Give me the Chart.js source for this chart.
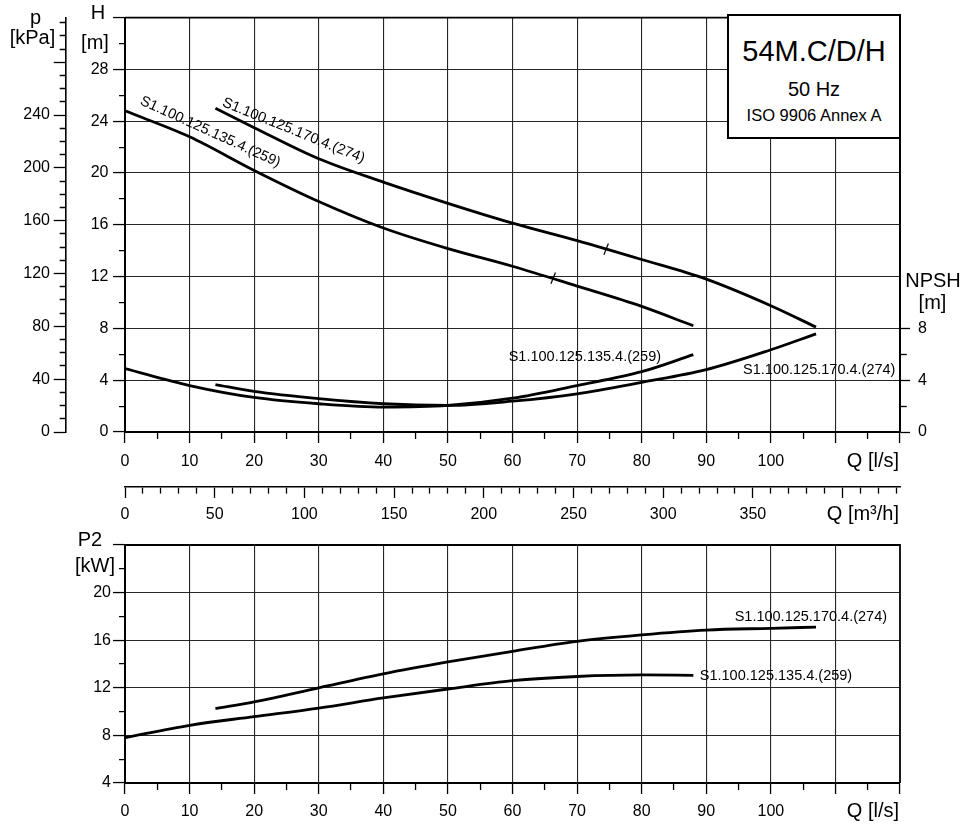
<!DOCTYPE html>
<html>
<head>
<meta charset="utf-8">
<script src="https://cdn.jsdelivr.net/npm/chart.js@4"></script>
<style>
  body { margin: 0; background: #fff; }
  #wrap { position: relative; width: 964px; height: 825px; }
  #c1 { position: absolute; left: 0; top: 0; }
  #c2 { position: absolute; left: 0; top: 525px; }
  .info {
    position: absolute; left: 727px; top: 14px; width: 174px; height: 125px;
    box-sizing: border-box; border: 2px solid #000; background: #fff;
    font-family: 'Liberation Sans', Arial, sans-serif; text-align: center; color: #000;
  }
  .info .t1 { position: absolute; left: 0; right: 0; top: 18px; font-size: 29px; line-height: 34px; }
  .info .t2 { position: absolute; left: 0; right: 0; top: 61px; font-size: 20px; line-height: 24px; }
  .info .t3 { position: absolute; left: 0; right: 0; top: 89px; font-size: 16.5px; line-height: 20px; }
</style>
</head>
<body>
<div id="wrap">
  <canvas id="c1" width="964" height="525" style="width:964px;height:525px"></canvas>
  <canvas id="c2" width="964" height="300" style="width:964px;height:300px"></canvas>
  <div class="info">
    <div class="t1">54M.C/D/H</div>
    <div class="t2">50 Hz</div>
    <div class="t3">ISO 9906 Annex A</div>
  </div>
</div>
<script>
"use strict";
{
    // pump names
    const pumps = ['S1.100.125.135.4.(259)', 'S1.100.125.170.4.(274)'];

    // S1.100.125.135.4.(259)
    const flow259 = [0, 10, 20, 30, 40, 50, 60, 70, 80, 88];
    const head259 = [24.8, 22.8, 20.2, 17.8, 15.75, 14.16, 12.8, 11.27, 9.7, 8.2];
    const npsh259 = [4.89, 3.59, 2.67, 2.18, 1.92, 2.05, 2.61, 3.59, 4.66, 5.97];
    const power259 = [7.8, 8.85, 9.58, 10.3, 11.15, 11.9, 12.6, 12.95, 13.08, 13.05];

    // S1.100.125.170.4.(274)
    const flow274 = [14, 20, 30, 40, 50, 60, 70, 80, 90, 100, 107];
    const head274 = [25.0, 23.5, 21.1, 19.3, 17.66, 16.13, 14.78, 13.32, 11.8, 9.75, 8.1];
    const npsh274 = [3.66, 3.13, 2.57, 2.18, 2.05, 2.38, 2.95, 3.84, 4.82, 6.35, 7.58];
    const power274 = [10.25, 10.82, 12.0, 13.17, 14.17, 15.07, 15.91, 16.45, 16.85, 17.0, 17.1];

    // duty point marks on the head curves
    const markFlow = [66.3, 74.5];
    const markHead = [11.88, 14.12];

    // axis tick labels
    const flowTicks = [0, 10, 20, 30, 40, 50, 60, 70, 80, 90, 100];
    const m3hTicks = [0, 50, 100, 150, 200, 250, 300, 350];
    const headTicks = [0, 4, 8, 12, 16, 20, 24, 28];
    const kpaTicks = [0, 40, 80, 120, 160, 200, 240];
    const npshTicks = [0, 4, 8];
    const powerTicks = [4, 8, 12, 16, 20];

    const BLACK = '#000';
    const GRID = '#262626';
    const FONT = "'Liberation Sans', Arial, sans-serif";
    Chart.defaults.font.family = FONT;
    Chart.defaults.color = BLACK;

    const pts = (xs, ys) => xs.map((x, i) => ({ x: x, y: ys[i] }));
    const steps = (a, b, s) => {
        const out = [];
        for (let v = a; v <= b + 1e-9; v += s) out.push(+v.toFixed(4));
        return out;
    };
    const setTicks = values => scale => { scale.ticks = values.map(v => ({ value: v })); };
    const near = (v, list) => list.some(t => Math.abs(t - v) < 1e-6);

    // minor tick: short dash next to the axis line
    const dashLeft = major => c => (c.tick && major(c.tick.value)) ? [] : [0, 6, 6, 100];
    const dashOut = major => c => (c.tick && major(c.tick.value)) ? [] : [6, 100];

    function curve(data, yAxis) {
        return {
            type: 'line', data: data, yAxisID: yAxis, xAxisID: 'x',
            borderColor: BLACK, borderWidth: 2.8, pointRadius: 0,
            cubicInterpolationMode: 'monotone', fill: false
        };
    }

    const textPlugin = {
        id: 'texts',
        afterDraw(chart, args, opts) {
            const ctx = chart.ctx;
            ctx.save();
            ctx.fillStyle = BLACK;
            (opts.curveLabels || []).forEach(it => {
                const x = chart.scales.x.getPixelForValue(it.x);
                const y = chart.scales[it.yAxis].getPixelForValue(it.y);
                ctx.save();
                ctx.translate(x, y);
                ctx.rotate((it.angle || 0) * Math.PI / 180);
                ctx.font = '14.5px ' + FONT;
                ctx.textAlign = it.align || 'center';
                ctx.textBaseline = 'middle';
                ctx.fillText(it.text, 0, 0);
                ctx.restore();
            });
            (opts.titles || []).forEach(it => {
                ctx.font = (it.size || 20) + 'px ' + FONT;
                ctx.textAlign = it.align || 'center';
                ctx.textBaseline = 'middle';
                ctx.fillText(it.text, it.px, it.py);
            });
            ctx.restore();
        }
    };

    const framePlugin = {
        id: 'frame',
        afterDatasetsDraw(chart) {
            const a = chart.chartArea;
            const ctx = chart.ctx;
            ctx.save();
            ctx.strokeStyle = BLACK;
            ctx.lineWidth = 1.8;
            ctx.beginPath();
            ctx.moveTo(a.left, a.top);
            ctx.lineTo(a.right, a.top);
            ctx.lineTo(a.right, a.bottom);
            ctx.stroke();
            ctx.restore();
        }
    };

    const isTen = v => v % 10 === 0;
    const innerGrid = (lo, hi, every) => c =>
        (c.tick && c.tick.value % every === 0 && c.tick.value > lo && c.tick.value < hi) ? GRID : 'rgba(0,0,0,0)';

    const flowAxis = (height, padding) => ({
        type: 'linear', position: 'bottom', weight: 0, min: 0, max: 120,
        afterBuildTicks: setTicks(steps(0, 120, 5)),
        afterFit: s => { s.height = height; },
        ticks: {
            autoSkip: false, maxRotation: 0, padding: padding, font: { size: 16 },
            callback: v => near(v, flowTicks) ? String(v) : ''
        },
        grid: {
            color: innerGrid(0, 120, 10), lineWidth: 1.1,
            tickColor: BLACK, tickWidth: 1.3, tickLength: 11,
            tickBorderDash: dashOut(isTen)
        },
        border: { color: BLACK, width: 2 }
    });

    // ---------- head / NPSH chart ----------
    new Chart(document.getElementById('c1'), {
        data: {
            datasets: [
                curve(pts(flow259, head259), 'h'),
                curve(pts(flow274, head274), 'h'),
                curve(pts(flow259, npsh259), 'n'),
                curve(pts(flow274, npsh274), 'n'),
                {
                    type: 'scatter', data: pts(markFlow, markHead), yAxisID: 'h', xAxisID: 'x',
                    pointStyle: 'line', pointRadius: 6, pointRotation: -68,
                    borderColor: BLACK, borderWidth: 1.2
                }
            ]
        },
        options: {
            responsive: false, animation: false,
            layout: { padding: { top: 15, right: 0, bottom: 0, left: 0 } },
            plugins: {
                legend: { display: false }, tooltip: { enabled: false },
                texts: {
                    curveLabels: [
                        { text: pumps[0], x: 13.2, y: 23.17, yAxis: 'h', angle: 24.5 },
                        { text: pumps[1], x: 26.1, y: 23.27, yAxis: 'h', angle: 22 },
                        { text: pumps[0], x: 83, y: 5.8, yAxis: 'n', align: 'right' },
                        { text: pumps[1], x: 95.7, y: 4.8, yAxis: 'n', align: 'left' }
                    ],
                    titles: [
                        { text: 'p', px: 35.5, py: 18 },
                        { text: '[kPa]', px: 32.5, py: 38 },
                        { text: 'H', px: 98, py: 13 },
                        { text: '[m]', px: 95, py: 43 },
                        { text: 'NPSH', px: 933, py: 281 },
                        { text: '[m]', px: 932.5, py: 303 },
                        { text: 'Q [l/s]', px: 899, py: 461.7, align: 'right' },
                        { text: 'Q [m\u00b3/h]', px: 899, py: 514, align: 'right' }
                    ]
                }
            },
            scales: {
                x: flowAxis(55, 9.4),
                xm: {
                    type: 'linear', position: 'bottom', weight: 1, min: 0, max: 432,
                    afterBuildTicks: setTicks(steps(0, 430, 10)),
                    afterFit: s => { s.height = 38; },
                    ticks: {
                        autoSkip: false, maxRotation: 0, padding: 6.7, font: { size: 16 },
                        callback: v => near(v, m3hTicks) ? String(v) : ''
                    },
                    grid: {
                        drawOnChartArea: false, tickColor: BLACK, tickWidth: 1.3, tickLength: 11,
                        tickBorderDash: dashOut(v => v % 50 === 0)
                    },
                    border: { color: BLACK, width: 1.6 }
                },
                h: {
                    type: 'linear', position: 'left', weight: 0, min: 0, max: 32,
                    afterBuildTicks: setTicks(steps(0, 32, 2)),
                    afterFit: s => { s.width = 59.3; },
                    ticks: {
                        autoSkip: false, padding: 4.5, font: { size: 16 },
                        callback: v => near(v, headTicks) ? String(v) : ''
                    },
                    grid: {
                        color: innerGrid(0, 32, 4), lineWidth: 1.1,
                        tickColor: BLACK, tickWidth: 1.3, tickLength: 12,
                        tickBorderDash: dashLeft(v => v % 4 === 0)
                    },
                    border: { color: BLACK, width: 2 }
                },
                p: {
                    type: 'linear', position: 'left', weight: 1, min: 0, max: 32 * 9.80665,
                    afterBuildTicks: setTicks(steps(0, 310, 10)),
                    afterFit: s => { s.width = 65.7; },
                    ticks: {
                        autoSkip: false, padding: 3.7, font: { size: 16 },
                        callback: v => near(v, kpaTicks) ? String(v) : ''
                    },
                    grid: {
                        drawOnChartArea: false, tickColor: BLACK, tickWidth: 1.3, tickLength: 12,
                        tickBorderDash: dashLeft(v => v % 40 === 0)
                    },
                    border: { color: BLACK, width: 1.6 }
                },
                n: {
                    type: 'linear', position: 'right', min: 0, max: 32,
                    afterBuildTicks: setTicks([0, 2, 4, 6, 8]),
                    afterFit: s => { s.width = 64; },
                    ticks: {
                        autoSkip: false, padding: 8, font: { size: 16 },
                        callback: v => near(v, npshTicks) ? String(v) : ''
                    },
                    grid: {
                        drawOnChartArea: false, tickColor: BLACK, tickWidth: 1.3, tickLength: 10,
                        tickBorderDash: dashOut(v => v % 4 === 0)
                    },
                    border: { color: BLACK, width: 1.8 }
                }
            }
        },
        plugins: [framePlugin, textPlugin]
    });

    // ---------- power chart ----------
    new Chart(document.getElementById('c2'), {
        data: {
            datasets: [
                curve(pts(flow259, power259), 'y'),
                curve(pts(flow274, power274), 'y')
            ]
        },
        options: {
            responsive: false, animation: false,
            layout: { padding: { top: 20, right: 64, bottom: 0, left: 0 } },
            plugins: {
                legend: { display: false }, tooltip: { enabled: false },
                texts: {
                    curveLabels: [
                        { text: pumps[1], x: 94.4, y: 17.94, yAxis: 'y', align: 'left' },
                        { text: pumps[0], x: 89, y: 12.97, yAxis: 'y', align: 'left' }
                    ],
                    titles: [
                        { text: 'P2', px: 90, py: 15 },
                        { text: '[kW]', px: 95, py: 41 },
                        { text: 'Q [l/s]', px: 899, py: 286.7, align: 'right' }
                    ]
                }
            },
            scales: {
                x: flowAxis(42, 8),
                y: {
                    type: 'linear', position: 'left', min: 4, max: 24,
                    afterBuildTicks: setTicks(steps(4, 24, 2)),
                    afterFit: s => { s.width = 125; },
                    ticks: {
                        autoSkip: false, padding: 2, font: { size: 16 },
                        callback: v => near(v, powerTicks) ? String(v) : ''
                    },
                    grid: {
                        color: innerGrid(4, 24, 4), lineWidth: 1.1,
                        tickColor: BLACK, tickWidth: 1.3, tickLength: 12,
                        tickBorderDash: dashLeft(v => v % 4 === 0)
                    },
                    border: { color: BLACK, width: 2 }
                }
            }
        },
        plugins: [framePlugin, textPlugin]
    });
}
</script>
</body>
</html>
